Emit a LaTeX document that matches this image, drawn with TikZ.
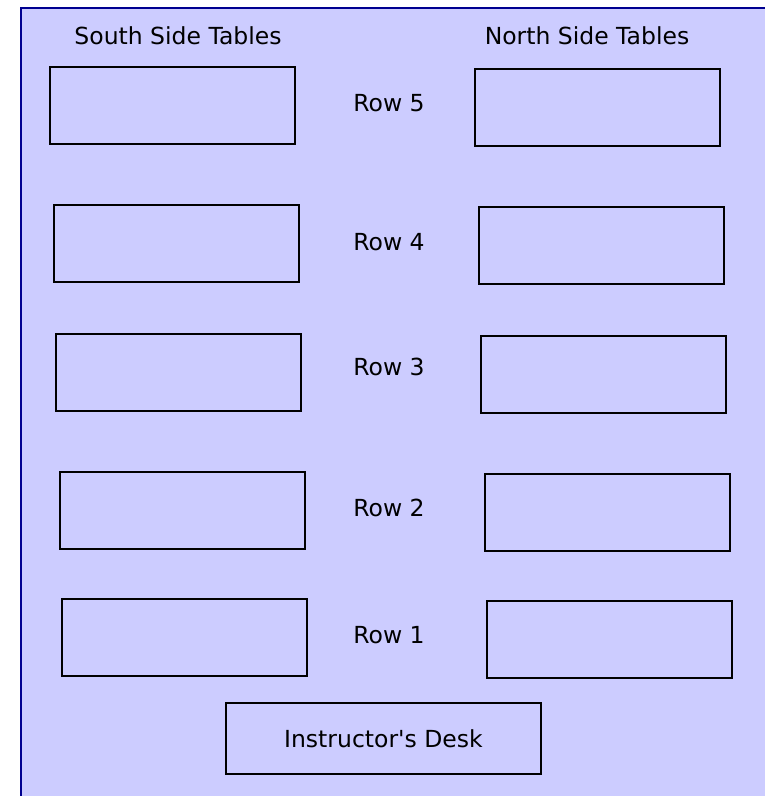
\documentclass[tikz,border=0pt]{standalone}
\usepackage{fontspec}
\setmainfont{DejaVu Sans}
\usepackage{tikz}
\usetikzlibrary{positioning}
\definecolor{roomfill}{HTML}{CCCCFF}
\definecolor{roomedge}{HTML}{000090}
\tikzset{
  tablebox/.style={rectangle, draw=black, line width=1.9pt, minimum width=245pt, minimum height=77pt, inner sep=0pt, anchor=north west},
  deskbox/.style={rectangle, draw=black, line width=1.9pt, minimum width=315pt, minimum height=71pt, inner sep=0pt, anchor=north west, font=\fontsize{23.5}{28}\selectfont},
  rowlabel/.style={font=\fontsize{23.5}{28}\selectfont, inner sep=0pt},
  heading/.style={font=\fontsize{23.5}{28}\selectfont, inner sep=0pt},
}

\begin{document}
\begin{tikzpicture}[x=1pt,y=-1pt]
  \useasboundingbox (0,0) rectangle (765,796);
  % room
  \fill[roomfill] (21,8) rectangle (765,796);
  \draw[roomedge,line width=2.5pt] (21,796) -- (21,8) -- (765,8);
  % headings
  \node[heading] (south) at (178,36) {South Side Tables};
  \node[heading] (north) at (587,36) {North Side Tables};
  % south side
  \node[tablebox] (s5) at (49,66) {};
  \node[tablebox] (s4) at (53,204) {};
  \node[tablebox] (s3) at (55,333) {};
  \node[tablebox] (s2) at (59,471) {};
  \node[tablebox] (s1) at (61,598) {};
  % north side
  \node[tablebox] (n5) at (474,68) {};
  \node[tablebox] (n4) at (478,206) {};
  \node[tablebox] (n3) at (480,335) {};
  \node[tablebox] (n2) at (484,473) {};
  \node[tablebox] (n1) at (486,600) {};
  % rows
  \node[rowlabel] (r5) at (389,103) {Row 5};
  \node[rowlabel] (r4) at (389,242) {Row 4};
  \node[rowlabel] (r3) at (389,367) {Row 3};
  \node[rowlabel] (r2) at (389,508) {Row 2};
  \node[rowlabel] (r1) at (389,635) {Row 1};
  % desk
  \node[deskbox] (desk) at (225,702) {Instructor\textquotesingle s Desk};
\end{tikzpicture}
\end{document}
